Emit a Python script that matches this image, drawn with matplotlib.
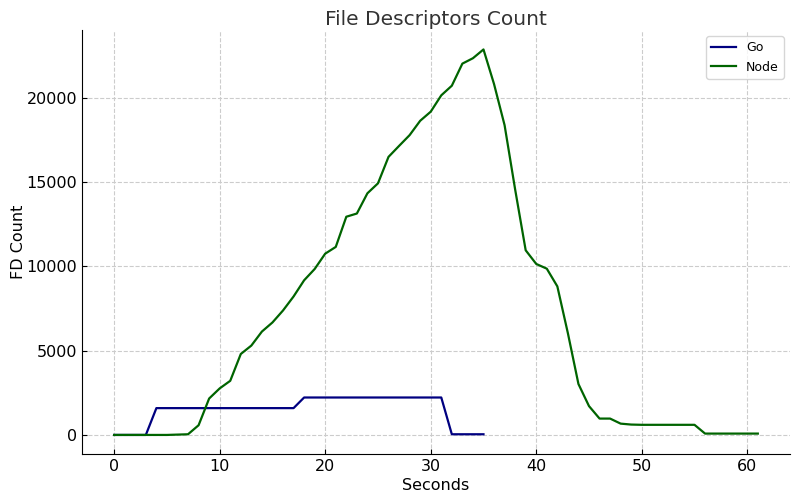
import matplotlib
matplotlib.use("Agg")
import matplotlib.pyplot as plt

seconds_go = list(range(0, 36))
go_fds = [0, 0, 0, 0] + [1590] * 14 + [2220] * 14 + [40, 40, 40, 40]

seconds_node = list(range(0, 62))
node_fds = [0, 0, 0, 0, 0, 0, 20, 40, 575, 2160,
            2760, 3210, 4800, 5300, 6130, 6670, 7380, 8210, 9170, 9840,
            10750, 11150, 12940, 13130, 14330, 14920, 16490, 17140, 17780, 18630,
            19170, 20140, 20710, 22020, 22340, 22860, 20810, 18370, 14560, 10950,
            10140, 9860, 8810, 6030, 3020, 1710, 970, 970, 670, 615,
            600, 600, 600, 600, 600, 600, 80, 80, 80, 80,
            80, 80]

fig, ax = plt.subplots(figsize=(8, 5.03), dpi=100)
fig.subplots_adjust(left=0.1025, right=0.9875, bottom=0.097, top=0.94)

ax.plot(seconds_go, go_fds, color="navy", lw=1.6, label="Go")
ax.plot(seconds_node, node_fds, color="darkgreen", lw=1.6, label="Node")

ax.set_title("File Descriptors Count", fontsize=14.5, color="#333333", pad=4)
ax.set_xlabel("Seconds", fontsize=11.5, labelpad=3)
ax.set_ylabel("FD Count", fontsize=11.5, labelpad=0)
ax.tick_params(direction="in", labelsize=11.5)
ax.grid(True, linestyle="--", color="#cccccc", lw=0.8)
ax.spines["top"].set_visible(False)
ax.spines["right"].set_visible(False)
ax.legend(loc="upper right", fontsize=9)

fig.savefig("out.png")
